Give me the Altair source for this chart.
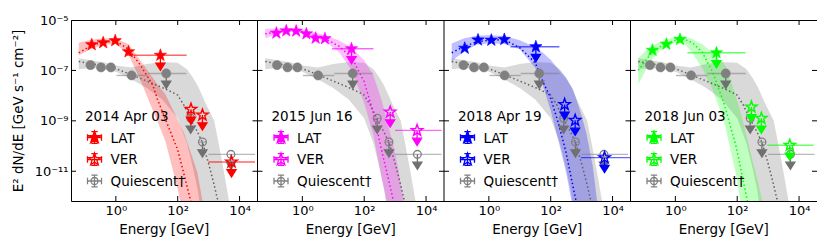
import math
import altair as alt
import pandas as pd

FONT = "DejaVu Sans"

# ---------------- data (log10 values) ----------------
dates = ["2014 Apr 03", "2015 Jun 16", "2018 Apr 19", "2018 Jun 03"]
colors = ["#ff0000", "#ff00ff", "#0000ff", "#00ff00"]

# quiescent model line and band (same in every panel)
q_line_logE = [-1.2, -0.8, -0.4, 0.0, 0.5, 1.0, 1.5, 1.8, 2.0, 2.2, 2.41, 2.6, 2.8, 3.0, 3.15, 3.3, 3.45]
q_line_logF = [-6.65, -6.73, -6.83, -6.93, -7.17, -7.42, -7.68, -7.85, -7.98, -8.38, -8.92, -9.35, -9.85,
               -10.7, -11.4, -12.18, -12.9]
q_band_logE = [-1.2, -0.8, -0.4, 0.0, 0.5, 1.0, 1.5, 2.0, 2.3, 2.5, 2.64, 2.7, 2.9, 3.18, 3.34, 3.5, 3.66, 3.8]
q_band_hi = [-6.52, -6.60, -6.68, -6.80, -6.88, -6.75, -6.67, -6.70, -6.95, -7.3, -7.6, -7.75, -8.3,
             -9.0, -10.0, -11.06, -12.18, -13.0]
q_band_lo = [-6.95, -6.90, -6.95, -7.05, -7.35, -7.70, -8.15, -8.90, -9.9, -10.9, -11.7, -12.2, -13.0,
             -13.0, -13.0, -13.0, -13.0, -13.0]

# quiescent LAT points; energy bins of the 4th/5th point; 5th point is an upper limit
q_lat_logE = [-0.82, -0.48, -0.16, 0.51, 1.63]
q_lat_logF = [-6.79, -6.88, -6.88, -7.20, -7.12]
q_latbar_logF = [-7.20, -7.12]
q_latbar_xlo = [0.02, 1.03]
q_latbar_xhi = [1.03, 2.28]
q_latul_logE = [1.63]
q_latul_logF = [-7.12]

# quiescent VERITAS upper limits
q_ver_logE = [2.42, 2.80, 3.72]
q_ver_logF = [-8.90, -9.84, -10.33]
q_ver_xlo = [2.30, 2.68, 2.99]
q_ver_xhi = [2.54, 2.93, 4.50]

# flare models per panel
f_model_logE = [
    [-1.2, -0.8, -0.4, 0.0, 0.4, 0.8, 1.2, 1.34, 1.6, 2.0, 2.2, 2.42, 2.64, 2.8, 2.95],
    [-1.2, -0.8, -0.4, 0.0, 0.4, 0.8, 1.2, 1.6, 2.0, 2.3, 2.57, 2.8, 2.95, 3.1, 3.27, 3.4],
    [-1.2, -0.8, -0.4, 0.0, 0.5, 1.0, 1.5, 1.75, 2.0, 2.25, 2.5, 2.72, 2.82, 3.0, 3.15, 3.36, 3.5, 3.6],
    [-1.2, -0.8, -0.4, 0.0, 0.3, 0.55, 0.87, 1.2, 1.5, 1.63, 1.95, 2.05, 2.2, 2.35, 2.5, 2.65, 2.85, 3.0],
]
f_model_line = [
    [-6.30, -6.02, -5.88, -5.83, -6.15, -6.80, -7.60, -8.13, -8.93, -10.15, -11.1, -12.18, -13.3, -14.0, -15.0],
    [-5.55, -5.47, -5.42, -5.46, -5.62, -5.78, -6.05, -6.5, -7.45, -8.7, -10.2, -11.4, -12.2, -13.0, -13.8, -14.5],
    [-6.30, -6.05, -5.87, -5.80, -5.78, -6.10, -6.70, -7.45, -8.10, -9.10, -10.27, -11.6, -12.18, -13.2, -14.0,
     -15.0, -15.5, -16.0],
    [-7.00, -6.35, -5.98, -5.80, -5.77, -5.90, -6.28, -7.05, -8.05, -8.55, -9.95, -10.5, -11.4, -12.3, -13.2,
     -14.0, -15.0, -16.0],
]
f_model_hi = [
    [-5.90, -5.78, -5.72, -5.74, -5.95, -6.62, -7.30, -7.55, -7.95, -8.95, -9.47, -10.25, -11.06, -12.18, -13.0],
    [-5.35, -5.35, -5.33, -5.38, -5.50, -5.62, -5.82, -6.10, -6.60, -7.20, -8.2, -9.3, -10.0, -10.9, -12.18, -13.0],
    [-5.93, -5.72, -5.62, -5.60, -5.63, -5.80, -6.08, -6.30, -6.58, -6.95, -7.30, -7.75, -8.1, -8.8, -9.47,
     -10.79, -12.18, -13.0],
    [-6.50, -6.05, -5.82, -5.66, -5.65, -5.75, -5.96, -6.30, -6.65, -6.83, -8.0, -8.41, -9.1, -9.85, -10.6,
     -11.32, -12.4, -13.0],
]
f_model_lo = [
    [-6.40, -6.15, -5.98, -5.95, -6.35, -7.40, -8.60, -9.00, -9.80, -11.70, -13.0, -14.0, -15.0, -15.0, -15.0],
    [-5.72, -5.55, -5.48, -5.52, -5.70, -5.90, -6.30, -7.00, -8.30, -9.6, -11.3, -12.6, -13.3, -14.0, -14.5, -15.0],
    [-6.63, -6.25, -5.98, -5.92, -5.95, -6.16, -6.90, -7.60, -8.60, -9.80, -11.06, -12.5, -13.0, -14.0, -14.5,
     -15.0, -15.5, -16.0],
    [-7.55, -6.65, -6.10, -5.90, -5.95, -6.30, -6.90, -7.75, -8.75, -9.30, -11.06, -11.8, -13.0, -14.0, -15.0,
     -16.0, -16.0, -16.0],
]

# flare LAT detections
f_lat_logE = [
    [-0.78, -0.41, -0.02, 0.41],
    [-0.84, -0.52, -0.20, 0.13, 0.43, 0.73],
    [-0.78, -0.35, 0.08, 0.50],
    [-0.74, -0.29, 0.15],
]
f_lat_logF = [
    [-5.98, -5.90, -5.82, -6.26],
    [-5.52, -5.43, -5.44, -5.55, -5.72, -5.74],
    [-6.12, -5.79, -5.80, -5.77],
    [-6.20, -5.96, -5.77],
]
# flare LAT upper limit (one per panel) with its energy range
f_latul_logE = [1.44, 1.59, 1.52, 1.33]
f_latul_logF = [-6.40, -6.14, -6.06, -6.30]
f_latul_xlo = [0.37, 0.96, 0.70, 0.39]
f_latul_xhi = [2.29, 2.30, 2.28, 2.27]

# flare VERITAS upper limits; energy range of the highest bin
f_ver_logE = [[2.43, 2.80, 3.74], [2.84, 3.71], [2.45, 2.79, 3.74], [2.46, 2.78, 3.70]]
f_ver_logF = [[-8.54, -8.77, -10.63], [-8.65, -9.38], [-8.35, -8.98, -10.46], [-8.45, -8.90, -9.97]]
f_verbar_logF = [-10.63, -9.38, -10.46, -9.97]
f_verbar_xlo = [2.99, 3.00, 2.98, 2.97]
f_verbar_xhi = [4.50, 4.50, 4.76, 4.47]

x_tick_exp = [0, 2, 4]
y_ticks = [1e-5, 1e-7, 1e-9, 1e-11]
legend_labels = ["LAT", "VER", "Quiescent\u2020"]

# ---------------- layout / style ----------------
PW, PH = 186.5, 181          # one panel
D = 6.03                     # decades of energy spanned by one panel
XMIN, XMAX = -1.45, 4.58     # log10(E) range of a panel
YMIN, YMAX = 10 ** -12.18, 1e-5
GRAY, DGRAY, LGRAY = "#808080", "#707070", "#606060"

ARROW = "M0,0L0,0.62M-0.3,0.52L0.3,0.52L0,1Z"
TICK_DOWN, TICK_UP = "M0,0L0,1", "M0,0L0,-1"
TICK_RIGHT, TICK_LEFT = "M0,0L1,0", "M0,0L-1,0"


def cross(cy):
    return (f"M-1,{cy:.3f}L1,{cy:.3f}M-1,{cy - 0.45:.3f}L-1,{cy + 0.45:.3f}M1,{cy - 0.45:.3f}L1,{cy + 0.45:.3f}"
            f"M0,{cy - 0.85:.3f}L0,{cy + 0.85:.3f}M-0.45,{cy - 0.85:.3f}L0.45,{cy - 0.85:.3f}"
            f"M-0.45,{cy + 0.85:.3f}L0.45,{cy + 0.85:.3f}")


def star(cy, R=0.92, r=0.37):
    pts_ = []
    for j in range(10):
        a = math.radians(-90 + 36 * j)
        rr = R if j % 2 == 0 else r
        pts_.append(f"{rr * math.cos(a):.3f},{cy + rr * math.sin(a):.3f}")
    return "M" + "L".join(pts_) + "Z"


def ring(cy, r=0.5):
    return f"M{-r},{cy:.3f}A{r},{r} 0 1,1 {r},{cy:.3f}A{r},{r} 0 1,1 {-r},{cy:.3f}Z"


STAR = star(0, R=1.0, r=0.4)            # five-pointed star marker
ROW2, ROW3 = 22 / 7, 43.5 / 7           # legend row offsets in symbol units (1 unit = 7 px)
LEG_A = cross(0) + star(0) + cross(ROW2)
LEG_B = star(ROW2)
LEG_C = cross(ROW3) + ring(ROW3)

# ---------------- build tables from the arrays ----------------
bands, lines, bars, pts, legend = [], [], [], [], []


def P(u, F, shp, sz, fill, stroke, sw=1.3):
    pts.append(dict(u=u, F=F, shp=shp, sz=sz, fill=fill, stroke=stroke, sw=sw))


for k in range(4):
    c = colors[k]
    off = k * D
    for e, h, l in zip(q_band_logE, q_band_hi, q_band_lo):
        bands.append(dict(s=f"{k}a", u=e + off, hi=10 ** h, lo=10 ** l, col=GRAY, op=0.3))
    for e, h, l in zip(f_model_logE[k], f_model_hi[k], f_model_lo[k]):
        bands.append(dict(s=f"{k}b", u=e + off, hi=10 ** h, lo=10 ** l, col=c, op=0.25))
    for e, f in zip(q_line_logE, q_line_logF):
        lines.append(dict(s=f"{k}a", u=e + off, F=10 ** f, col=LGRAY))
    for e, f in zip(f_model_logE[k], f_model_line[k]):
        lines.append(dict(s=f"{k}b", u=e + off, F=10 ** f, col=c))

    def bar(lo, hi, f, col, op):
        bars.append(dict(ulo=max(lo, XMIN) + off, uhi=min(hi, XMAX) + off, F=10 ** f, col=col, op=op))

    for f, lo, hi in zip(q_latbar_logF, q_latbar_xlo, q_latbar_xhi):
        bar(lo, hi, f, GRAY, 0.55)
    for f, lo, hi in zip(q_ver_logF, q_ver_xlo, q_ver_xhi):
        bar(lo, hi, f, GRAY, 0.55)
    bar(f_latul_xlo[k], f_latul_xhi[k], f_latul_logF[k], c, 0.6)
    bar(f_verbar_xlo[k], f_verbar_xhi[k], f_verbar_logF[k], c, 0.6)

    # quiescent markers
    for e, f in zip(q_latul_logE + q_ver_logE, q_latul_logF + q_ver_logF):
        P(e + off, 10 ** f, ARROW, 900, DGRAY, DGRAY)
    for e, f in zip(q_lat_logE, q_lat_logF):
        P(e + off, 10 ** f, "circle", 85, GRAY, GRAY, 0.5)
    for e, f in zip(q_ver_logE, q_ver_logF):
        P(e + off, 10 ** f, "circle", 60, "transparent", GRAY)
    # flare markers
    for e, f in zip([f_latul_logE[k]] + f_ver_logE[k], [f_latul_logF[k]] + f_ver_logF[k]):
        P(e + off, 10 ** f, ARROW, 900, c, c)
    for e, f in zip(f_lat_logE[k] + [f_latul_logE[k]], f_lat_logF[k] + [f_latul_logF[k]]):
        P(e + off, 10 ** f, STAR, 169, c, c, 0.6)
    for e, f in zip(f_ver_logE[k], f_ver_logF[k]):
        P(e + off, 10 ** f, STAR, 144, "transparent", c, 1.4)
    # inward ticks on all four sides of the panel
    for e in x_tick_exp:
        P(e + off, YMAX, TICK_DOWN, 100, "black", "black", 1)
        P(e + off, YMIN, TICK_UP, 100, "black", "black", 1)
    for f in y_ticks:
        P(XMIN + off, f, TICK_RIGHT, 100, "black", "black", 1)
        P(XMAX + off, f, TICK_LEFT, 100, "black", "black", 1)

    legend.append(dict(u=XMIN + off, uc=(XMIN + XMAX) / 2 + off, txt=dates[k], col=c))

bands = pd.DataFrame(bands)
lines = pd.DataFrame(lines)
bars = pd.DataFrame(bars)
pts = pd.DataFrame(pts)
legend = pd.DataFrame(legend)
borders = pd.DataFrame({"u": [XMIN + k * D for k in (1, 2, 3)]})

# ---------------- scales / axes ----------------
xsc = alt.Scale(type="linear", domain=[XMIN, XMAX + 3 * D], nice=False, zero=False)
ysc = alt.Scale(type="log", domain=[YMIN, YMAX], nice=False)

x_vals = [e + k * D for k in range(4) for e in x_tick_exp]
EXP = "round(datum.value - 6.03 * round((datum.value - 2) / 6.03))"
xax = alt.Axis(values=x_vals, title=None, ticks=False, domain=False, grid=False,
               labelExpr=f"{EXP} == 0 ? '10\u2070' : {EXP} == 2 ? '10\u00b2' : '10\u2074'",
               labelFontSize=13, labelPadding=3, labelFont=FONT, labelColor="black", labelFlush=False)
yax = alt.Axis(values=y_ticks, ticks=False, domain=False, grid=False,
               labelExpr="datum.value > 5e-6 ? '10\u207b\u2075' : datum.value > 5e-8 ? '10\u207b\u2077' : "
                         "datum.value > 5e-10 ? '10\u207b\u2079' : '10\u207b\u00b9\u00b9'",
               labelFontSize=13, labelPadding=3, labelFont=FONT, labelColor="black",
               minExtent=36, maxExtent=36,
               title="E\u00b2 dN/dE [GeV s\u207b\u00b9 cm\u207b\u00b2]", titleFont=FONT, titleFontSize=13.5,
               titleFontWeight="normal", titleColor="black", titlePadding=10)


def X(f):
    return alt.X(f, type="quantitative", scale=xsc, axis=xax)


def Y(f):
    return alt.Y(f, type="quantitative", scale=ysc, axis=yax)


band_layer = alt.Chart(bands).mark_area(clip=True).encode(
    x=X("u"), y=Y("hi"), y2=alt.Y2("lo"),
    color=alt.Color("col:N", scale=None), opacity=alt.Opacity("op:Q", scale=None), detail="s:N")

line_layer = alt.Chart(lines).mark_line(strokeDash=[1.5, 2.5], strokeWidth=1.5, clip=True).encode(
    x=X("u"), y=Y("F"), color=alt.Color("col:N", scale=None), detail="s:N")

bar_layer = alt.Chart(bars).mark_rule(strokeWidth=1.4, clip=True).encode(
    x=X("ulo"), x2=alt.X2("uhi"), y=Y("F"),
    color=alt.Color("col:N", scale=None), opacity=alt.Opacity("op:Q", scale=None))

border_layer = alt.Chart(borders).mark_rule(color="black", strokeWidth=1).encode(
    x=X("u"), y=alt.value(0), y2=alt.value(PH))

point_layer = alt.Chart(pts).mark_point(filled=True, opacity=1, clip=True).encode(
    x=X("u"), y=Y("F"),
    shape=alt.Shape("shp:N", scale=None), size=alt.Size("sz:Q", scale=None),
    fill=alt.Fill("fill:N", scale=None), stroke=alt.Stroke("stroke:N", scale=None),
    strokeWidth=alt.StrokeWidth("sw:Q", scale=None))

date_layer = alt.Chart(legend).mark_text(align="left", baseline="alphabetic", dx=14, fontSize=13.5,
                                         font=FONT, color="black").encode(
    x=X("u"), y=alt.value(101), text="txt:N")

label_layer = alt.Chart(legend).mark_text(text=legend_labels, align="left", baseline="alphabetic", dx=39.5,
                                          lineHeight=21.75, fontSize=13.5, font=FONT, color="black").encode(
    x=X("u"), y=alt.value(122.5))

legA = alt.Chart(legend).mark_point(shape=LEG_A, size=196, filled=True, opacity=1, strokeWidth=1.3,
                                    xOffset=23.5).encode(
    x=X("u"), y=alt.value(117.5), fill=alt.Fill("col:N", scale=None), stroke=alt.Stroke("col:N", scale=None))
legB = alt.Chart(legend).mark_point(shape=LEG_B, size=196, filled=True, opacity=1, strokeWidth=1.3,
                                    fill="transparent", xOffset=23.5).encode(
    x=X("u"), y=alt.value(117.5), stroke=alt.Stroke("col:N", scale=None))
legC = alt.Chart(legend).mark_point(shape=LEG_C, size=196, filled=True, opacity=1, strokeWidth=1.3,
                                    fill="transparent", stroke=GRAY, xOffset=23.5).encode(
    x=X("u"), y=alt.value(117.5))

xtitle_layer = alt.Chart(legend).mark_text(text="Energy [GeV]", align="center", baseline="middle",
                                           fontSize=13.5, font=FONT, color="black").encode(
    x=X("uc"), y=alt.value(PH + 29))

chart = (alt.layer(band_layer, line_layer, bar_layer, border_layer, point_layer,
                   date_layer, label_layer, legA, legB, legC, xtitle_layer)
         .properties(width=4 * PW, height=PH,
                     padding={"left": 3, "top": 6, "right": 0, "bottom": 2})
         .configure_view(stroke="black", strokeWidth=1))

chart.save("out.html", embed_options={"renderer": "svg", "actions": False})
